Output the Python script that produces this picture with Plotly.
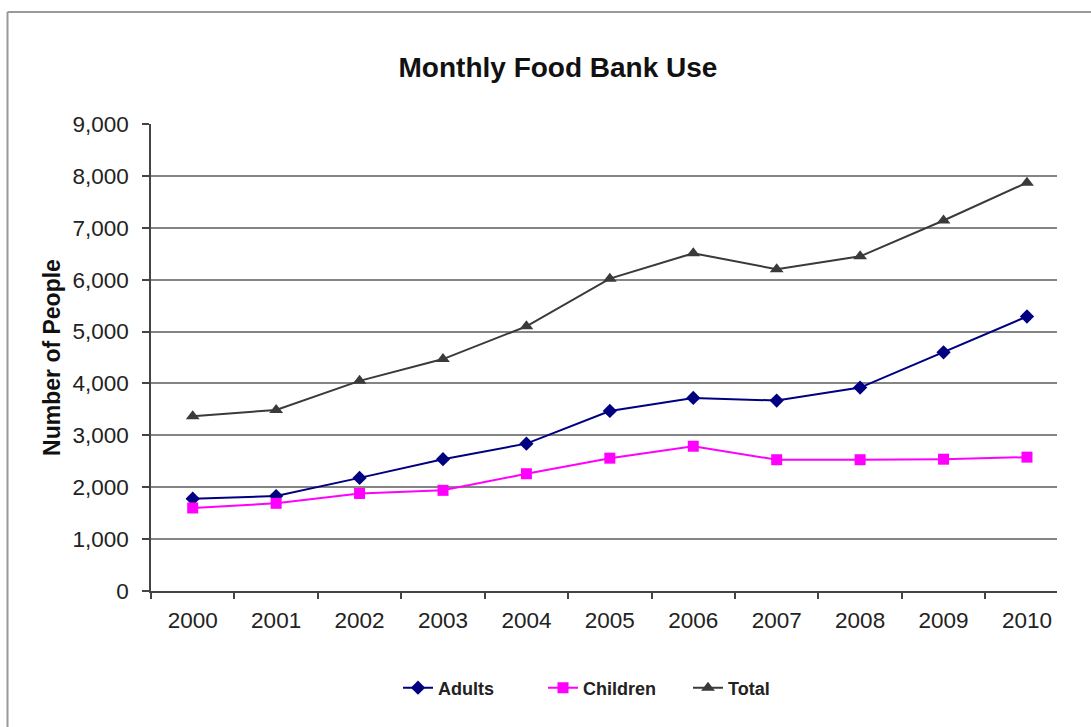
import plotly.graph_objects as go

# Monthly food bank use by year
years = ["2000", "2001", "2002", "2003", "2004", "2005",
         "2006", "2007", "2008", "2009", "2010"]
adults = [1780, 1830, 2180, 2540, 2840, 3470, 3720, 3670, 3920, 4600, 5290]
children = [1600, 1690, 1880, 1940, 2260, 2560, 2790, 2530, 2530, 2540, 2580]
total = [3370, 3490, 4050, 4470, 5100, 6020, 6510, 6200, 6450, 7140, 7870]

y_ticks = [0, 1000, 2000, 3000, 4000, 5000, 6000, 7000, 8000, 9000]

FONT = "Arial, Liberation Sans, sans-serif"

fig = go.Figure()
fig.add_trace(go.Scatter(
    x=years, y=adults, name="Adults", mode="lines+markers",
    line=dict(color="#000080", width=2),
    marker=dict(symbol="diamond", size=11, color="#000080"),
))
fig.add_trace(go.Scatter(
    x=years, y=children, name="Children", mode="lines+markers",
    line=dict(color="#FF00FF", width=2),
    marker=dict(symbol="square", size=11, color="#FF00FF"),
))
fig.add_trace(go.Scatter(
    x=years, y=total, name="Total", mode="lines+markers",
    line=dict(color="#3a3a3a", width=2),
    marker=dict(symbol="triangle-up", size=12, color="#3a3a3a"),
))

L, R, T, B = 151, 1057, 124, 591
W, H = 1091, 727

def px_x(px):
    return (px - L) / (R - L)

def px_y(py):
    return (B - py) / (B - T)

fig.update_layout(
    width=W, height=H,
    margin=dict(l=L, r=W - R, t=T, b=H - B),
    paper_bgcolor="white", plot_bgcolor="white",
    font=dict(family=FONT, color="#222222"),
    title=dict(
        text="<b>Monthly Food Bank Use</b>",
        font=dict(family=FONT, size=28, color="#111111"),
        x=px_x(558), xanchor="center", xref="paper",
        y=1 - 67 / H, yanchor="middle", yref="container",
    ),
    showlegend=True,
    legend=dict(
        orientation="h", x=px_x(398), xanchor="left",
        y=px_y(688), yanchor="middle",
        font=dict(family=FONT, size=18, color="#222222", weight="bold"),
        itemwidth=30, entrywidth=100, entrywidthmode="pixels",
        bgcolor="rgba(0,0,0,0)", tracegroupgap=0,
    ),
    xaxis=dict(
        type="category", range=[-0.5, 10.36],
        showline=True, linecolor="#444444", linewidth=1.5,
        ticks="outside", tickson="boundaries", ticklen=6,
        tickcolor="#444444", tickwidth=1.5,
        showgrid=False, zeroline=False,
        tickfont=dict(family=FONT, size=22.5, color="#222222"),
        ticklabelstandoff=8,
    ),
    yaxis=dict(
        range=[0, 9000], tickvals=y_ticks, tickformat=",",
        showline=True, linecolor="#444444", linewidth=1.5,
        ticks="outside", ticklen=7, tickcolor="#444444", tickwidth=1.5,
        showgrid=True, gridcolor="#858585", gridwidth=1.5,
        zeroline=False,
        tickfont=dict(family=FONT, size=22.5, color="#222222"),
        ticklabelstandoff=9,
        title=dict(text="<b>Number of People</b>",
                   font=dict(family=FONT, size=23, color="#111111"),
                   standoff=5),
    ),
    shapes=[
        dict(type="line", xref="paper", yref="paper",
             x0=px_x(7.5), x1=px_x(1200), y0=px_y(12), y1=px_y(12),
             line=dict(color="#9a9a9a", width=2)),
        dict(type="line", xref="paper", yref="paper",
             x0=px_x(7.5), x1=px_x(7.5), y0=px_y(12), y1=px_y(900),
             line=dict(color="#9a9a9a", width=2)),
    ],
)

fig.write_html("out.html")
